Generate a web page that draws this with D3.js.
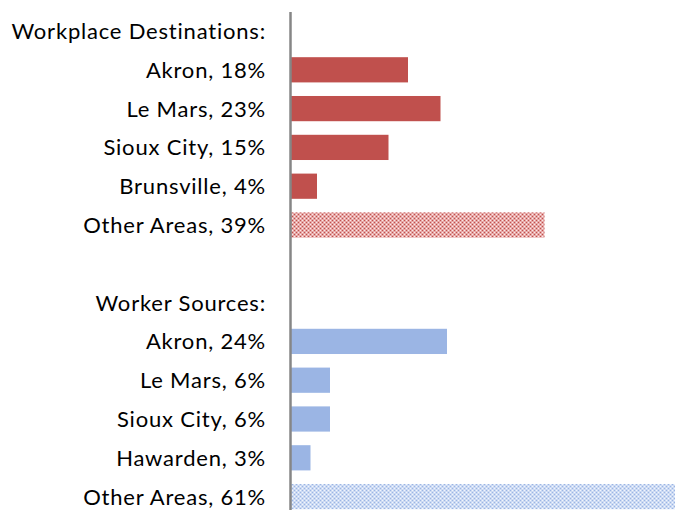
<!DOCTYPE html>
<html>
<head>
<meta charset="utf-8">
<script src="https://cdn.jsdelivr.net/npm/d3@7"></script>
<style>
  body { margin: 0; background: #fff; }
</style>
</head>
<body>
<div id="container"></div>
<script>
/* CONSTANTS AND GLOBALS */
const width = 675,
  height = 510,
  margin = { top: 11.6, left: 290 };

// rows, top to bottom (headers and blank rows have no value)
const labels = ["Workplace Destinations:", "Akron, 18%", "Le Mars, 23%", "Sioux City, 15%", "Brunsville, 4%", "Other Areas, 39%",
  "", "Worker Sources:", "Akron, 24%", "Le Mars, 6%", "Sioux City, 6%", "Hawarden, 3%", "Other Areas, 61%"];
const values = [null, 18, 23, 15, 4, 39, null, null, 24, 6, 6, 3, 61];
const groups = [null, "dest", "dest", "dest", "dest", "destOther", null, null, "src", "src", "src", "src", "srcOther"];

const colors = { dest: "#C0504D", destOther: "url(#checkRed)", src: "#9BB5E4", srcOther: "url(#checkBlue)" };

const rows = labels.map((l, i) => ({ id: i, label: l, value: values[i], group: groups[i] }));

/* SCALES */
const yScale = d3.scaleBand()
  .domain(rows.map(d => d.id))
  .range([margin.top, margin.top + 13 * 38.8])
  .paddingInner(0.35)
  .paddingOuter(0.175);

const xScale = d3.scaleLinear()
  .domain([0, 100])
  .range([margin.left + 1, margin.left + 1 + 650]);

const svg = d3.select("#container")
  .append("svg")
  .attr("width", width)
  .attr("height", height);

// checker patterns for the "Other Areas" bars
const defs = svg.append("defs");
function checker(id, bg, fg, dot) {
  const p = defs.append("pattern")
    .attr("id", id)
    .attr("patternUnits", "userSpaceOnUse")
    .attr("width", 4).attr("height", 4);
  p.append("rect").attr("width", 4).attr("height", 4).attr("fill", bg);
  p.append("rect").attr("x", 0).attr("y", 0).attr("width", 1).attr("height", 1).attr("fill", fg);
  p.append("rect").attr("x", 2).attr("y", 2).attr("width", 1).attr("height", 1).attr("fill", fg);
  p.append("rect").attr("x", 2).attr("y", 0).attr("width", 1).attr("height", 1).attr("fill", dot);
  p.append("rect").attr("x", 0).attr("y", 2).attr("width", 1).attr("height", 1).attr("fill", dot);
}
checker("checkRed", "#E6A7A6", "#C0504D", "#FBEAEA");
checker("checkBlue", "#CCDAF3", "#9BB5E4", "#F2F6FD");

svg.selectAll("rect.bar")
  .data(rows.filter(d => d.value != null))
  .join("rect")
  .attr("class", "bar")
  .attr("x", xScale(0))
  .attr("y", d => yScale(d.id))
  .attr("width", d => xScale(d.value) - xScale(0))
  .attr("height", yScale.bandwidth())
  .attr("fill", d => colors[d.group]);

// category axis line
const yAxis = d3.axisLeft(yScale).tickSize(0).tickFormat("");
svg.append("g")
  .attr("transform", `translate(${margin.left},0)`)
  .call(yAxis)
  .call(g => g.select(".domain").attr("stroke", "#868686").attr("stroke-width", 2.5));

svg.selectAll("text.label")
  .data(rows)
  .join("text")
  .attr("class", "label")
  .attr("x", margin.left - 24)
  .attr("y", d => yScale(d.id) + yScale.bandwidth() / 2)
  .attr("dy", "0.36em")
  .attr("text-anchor", "end")
  .attr("font-family", "Lato, sans-serif")
  .attr("font-size", "22px")
  .attr("letter-spacing", "0.8px")
  .attr("fill", "#000")
  .text(d => d.label);
</script>
</body>
</html>
